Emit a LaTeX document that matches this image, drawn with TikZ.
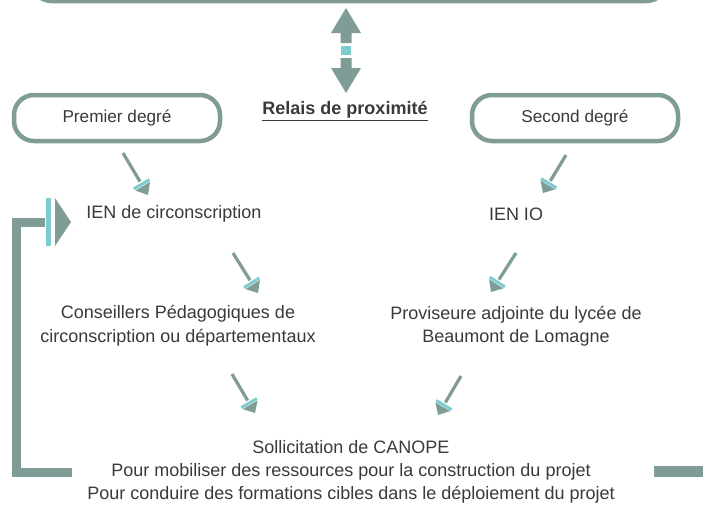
\documentclass[tikz,border=0pt]{standalone}
\usepackage{fontspec}
\setmainfont{Liberation Sans}
\usetikzlibrary{calc}
\definecolor{sage}{HTML}{7F9C96}
\definecolor{aqua}{HTML}{7ECBD0}
\definecolor{txt}{HTML}{3A3A3A}
\newcommand\smallarr[2]{%
  \draw[sage, line width=3.2pt] (#1) -- ($(#1)!0.68!(#2)$);
  \draw[aqua, line width=3pt] ($(#1)!0.745!(#2)!9pt!90:(#2)$) -- ($(#1)!0.745!(#2)!9pt!-90:(#2)$);
  \fill[sage] ($(#1)!0.79!(#2)!8.5pt!90:(#2)$) -- (#2) -- ($(#1)!0.79!(#2)!8.5pt!-90:(#2)$) -- cycle;
}
\begin{document}
\begin{tikzpicture}[x=1pt,y=-1pt,
  font=\fontsize{18}{24}\selectfont,
  lbl/.style={text=txt, align=center, inner sep=0pt},
  degbox/.style={draw=sage, line width=4.5pt, rounded corners=20pt, fill=white,
    minimum width=206pt, minimum height=46pt, text=txt, inner sep=0pt,
    font=\fontsize{17.2}{22}\selectfont}]
\useasboundingbox (0,0) rectangle (703,507);
\fill[white] (0,0) rectangle (703,507);
% top box (cut off)
\draw[sage, line width=4.5pt, rounded corners=22pt, fill=white] (30,-60) rectangle (668,1);
% double arrow
\fill[sage] (346,8) -- (361,33) -- (351.5,33) -- (351.5,43) -- (340.5,43) -- (340.5,33) -- (331,33) -- cycle;
\fill[aqua] (341,46) rectangle (351,55);
\fill[sage] (346,93) -- (361,68) -- (351.5,68) -- (351.5,58) -- (340.5,58) -- (340.5,68) -- (331,68) -- cycle;
% boxes
\node[degbox] (prem) at (117,118) {Premier degré};
\node[degbox] (sec) at (575,118) {Second degré};
\node[lbl, font=\fontsize{18}{24}\selectfont\bfseries] (relais) at (345,111) {\underline{Relais de proximité}};
% texts
\node[lbl] (ienc) at (174,214) {IEN de circonscription};
\node[lbl] (ienio) at (516,214) {IEN IO};
\node[lbl] (cons) at (178,326) {Conseillers Pédagogiques de\\circonscription ou départementaux};
\node[lbl, font=\fontsize{18}{23}\selectfont] (prov) at (516,326) {Proviseure adjointe du lycée de\\Beaumont de Lomagne};
\node[lbl, font=\fontsize{18}{23}\selectfont] (canope) at (351,472) {Sollicitation de CANOPE\\Pour mobiliser des ressources pour la construction du projet\\Pour conduire des formations cibles dans le déploiement du projet};
% small arrows
\coordinate (l1s) at (123,153); \coordinate (l1e) at (148,195);
\coordinate (r1s) at (566,155); \coordinate (r1e) at (543,193);
\coordinate (l2s) at (233,253); \coordinate (l2e) at (258,293);
\coordinate (r2s) at (516,253); \coordinate (r2e) at (491,292);
\coordinate (l3s) at (232,374); \coordinate (l3e) at (255,413);
\coordinate (r3s) at (461,376); \coordinate (r3e) at (438,415);
\smallarr{l1s}{l1e}
\smallarr{r1s}{r1e}
\smallarr{l2s}{l2e}
\smallarr{r2s}{r2e}
\smallarr{l3s}{l3e}
\smallarr{r3s}{r3e}
% feedback bracket arrow
\coordinate (fb1) at (72,472);
\coordinate (fb2) at (16,472);
\coordinate (fb3) at (16,222);
\coordinate (fb4) at (45,222);
\draw[sage, line width=9pt] (fb1) -- (fb2) -- (fb3) -- (fb4);
\fill[aqua] (46,198) rectangle (51,246);
\fill[sage] (55,198) -- (71,222) -- (55,246) -- cycle;
% right bar
\fill[sage] (654,466) rectangle (703,477);
\end{tikzpicture}
\end{document}
